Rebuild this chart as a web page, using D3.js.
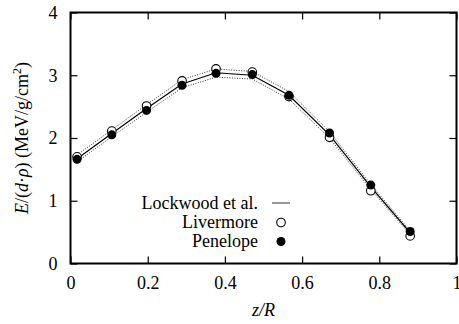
<!DOCTYPE html>
<html>
<head>
<meta charset="utf-8">
<script src="https://cdn.jsdelivr.net/npm/d3@7"></script>
<style>
  body { margin: 0; background: #fff; }
</style>
</head>
<body>
<div class="canvas"></div>
<script>
// data
const zR = [0.017, 0.107, 0.197, 0.289, 0.377, 0.471, 0.566, 0.671, 0.778, 0.880];
const lockwood = [1.67, 2.07, 2.47, 2.86, 3.04, 3.00, 2.68, 2.05, 1.22, 0.49];
const lockwoodHigh = [1.73, 2.13, 2.53, 2.93, 3.10, 3.06, 2.74, 2.10, 1.26, 0.52];
const lockwoodLow = [1.62, 2.02, 2.41, 2.80, 2.97, 2.94, 2.62, 2.00, 1.18, 0.46];
const livermore = [1.70, 2.11, 2.51, 2.91, 3.10, 3.05, 2.66, 2.01, 1.16, 0.44];
const penelope = [1.66, 2.05, 2.44, 2.84, 3.03, 3.01, 2.68, 2.08, 1.25, 0.51];
const xTicks = [0, 0.2, 0.4, 0.6, 0.8, 1];
const yTicks = [0, 1, 2, 3, 4];
const legendNames = ['Lockwood et al.', 'Livermore', 'Penelope'];

const serif = '"Liberation Serif", serif';
const dimension = { width: 459, height: 324 };
const plot = { left: 70.5, right: 456.5, top: 12.5, bottom: 263.5 };

const svg = d3
  .select('.canvas')
  .append('svg')
  .attr('width', dimension.width)
  .attr('height', dimension.height)
  .style('font-family', serif);

const x = d3.scaleLinear().domain([0, 1]).range([plot.left, plot.right]);
const y = d3.scaleLinear().domain([0, 4]).range([plot.bottom, plot.top]);

const tickLen = 7;

// axes with inward ticks, mirrored on top / right
const fmt = d => (d === 0 || d === 1 ? d3.format('d')(d) : d3.format('.1f')(d));

const xAxis = svg
  .append('g')
  .attr('transform', `translate(0, ${plot.bottom})`)
  .call(d3.axisBottom(x).tickValues(xTicks).tickFormat(fmt).tickSizeInner(-tickLen).tickSizeOuter(0).tickPadding(13));
const xTop = svg
  .append('g')
  .attr('transform', `translate(0, ${plot.top})`)
  .call(d3.axisTop(x).tickValues(xTicks).tickFormat('').tickSizeInner(-tickLen).tickSizeOuter(0));
const yAxis = svg
  .append('g')
  .attr('transform', `translate(${plot.left}, 0)`)
  .call(d3.axisLeft(y).tickValues(yTicks).tickFormat(d3.format('d')).tickSizeInner(-tickLen).tickSizeOuter(0).tickPadding(13));
const yRight = svg
  .append('g')
  .attr('transform', `translate(${plot.right}, 0)`)
  .call(d3.axisRight(y).tickValues(yTicks).tickFormat('').tickSizeInner(-tickLen).tickSizeOuter(0));

[xAxis, xTop, yAxis, yRight].forEach(a => {
  a.attr('font-family', null).attr('font-size', null);
  a.select('.domain').remove();
  a.selectAll('line').attr('stroke', '#000').attr('stroke-width', 1.2);
  a.selectAll('text').style('font-family', serif).style('font-size', '18px');
});

// frame
svg
  .append('rect')
  .attr('x', plot.left)
  .attr('y', plot.top)
  .attr('width', plot.right - plot.left)
  .attr('height', plot.bottom - plot.top)
  .attr('fill', 'none')
  .attr('stroke', '#000')
  .attr('stroke-width', 2);

// lines
const line = d3
  .line()
  .x(d => x(d[0]))
  .y(d => y(d[1]));

const pairs = arr => zR.map((z, i) => [z, arr[i]]);

svg
  .append('path')
  .attr('d', line(pairs(lockwoodHigh)))
  .attr('fill', 'none')
  .attr('stroke', '#333')
  .attr('stroke-width', 1)
  .attr('stroke-dasharray', '1,1.5');
svg
  .append('path')
  .attr('d', line(pairs(lockwoodLow)))
  .attr('fill', 'none')
  .attr('stroke', '#333')
  .attr('stroke-width', 1)
  .attr('stroke-dasharray', '1,1.5');
svg
  .append('path')
  .attr('d', line(pairs(lockwood)))
  .attr('fill', 'none')
  .attr('stroke', '#000')
  .attr('stroke-width', 1.2);

// markers
svg
  .append('g')
  .selectAll('circle')
  .data(pairs(livermore))
  .enter()
  .append('circle')
  .attr('cx', d => x(d[0]))
  .attr('cy', d => y(d[1]))
  .attr('r', 4.3)
  .attr('fill', '#fff')
  .attr('stroke', '#000')
  .attr('stroke-width', 1.1);

svg
  .append('g')
  .selectAll('circle')
  .data(pairs(penelope))
  .enter()
  .append('circle')
  .attr('cx', d => x(d[0]))
  .attr('cy', d => y(d[1]))
  .attr('r', 4.5)
  .attr('fill', '#000');

// legend
const legend = svg.append('g');
const legendY = [203, 222.5, 241.5];
legend
  .selectAll('text')
  .data(legendNames)
  .enter()
  .append('text')
  .attr('x', 258)
  .attr('y', (d, i) => legendY[i])
  .attr('dy', '0.33em')
  .attr('text-anchor', 'end')
  .style('font-family', serif)
  .style('font-size', '18px')
  .text(d => d);
legend
  .append('line')
  .attr('x1', 272)
  .attr('x2', 290)
  .attr('y1', legendY[0])
  .attr('y2', legendY[0])
  .attr('stroke', '#555')
  .attr('stroke-width', 1.2);
legend
  .append('circle')
  .attr('cx', 281)
  .attr('cy', legendY[1])
  .attr('r', 4.3)
  .attr('fill', '#fff')
  .attr('stroke', '#000')
  .attr('stroke-width', 1.1);
legend
  .append('circle')
  .attr('cx', 281)
  .attr('cy', legendY[2])
  .attr('r', 4.5)
  .attr('fill', '#000');

// axis titles
svg
  .append('text')
  .attr('x', (plot.left + plot.right) / 2)
  .attr('y', 316)
  .attr('text-anchor', 'middle')
  .style('font-family', serif)
  .style('font-size', '18px')
  .style('font-style', 'italic')
  .text('z/R');

const yTitle = svg
  .append('text')
  .attr('transform', `translate(28, ${(plot.top + plot.bottom) / 2}) rotate(-90)`)
  .attr('text-anchor', 'middle')
  .style('font-family', serif)
  .style('font-size', '18px');
yTitle.append('tspan').style('font-style', 'italic').text('E');
yTitle.append('tspan').text('/(');
yTitle.append('tspan').style('font-style', 'italic').text('d');
yTitle.append('tspan').text('\u00b7');
yTitle.append('tspan').style('font-style', 'italic').text('\u03c1');
yTitle.append('tspan').text(') (MeV/g/cm');
yTitle.append('tspan').style('font-size', '12px').attr('dy', -7).text('2');
yTitle.append('tspan').attr('dy', 7).text(')');
</script>
</body>
</html>
